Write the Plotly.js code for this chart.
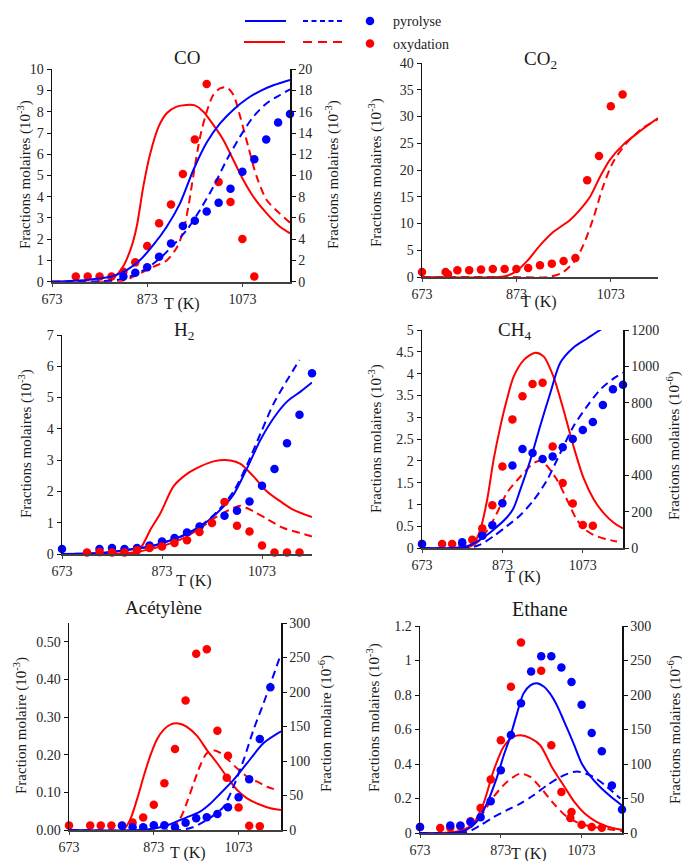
<!DOCTYPE html>
<html>
<head>
<meta charset="utf-8">
<script src="https://cdn.plot.ly/plotly-3.0.1.min.js"></script>
<style>html,body{margin:0;padding:0;background:#fff;}#chart{width:682px;height:861px;}</style>
</head>
<body>
<div id="chart"></div>
<script>
// ---------------- DATA ----------------
const xTicks = [673, 873, 1073];

// CO (oxydation: left axis 10^-3 ; pyrolyse: right axis 10^-3)
const coOxT   = [723,748,773,798,823,848,873,898,923,948,973,998,1023,1048,1073,1098];
const coOxExp = [0.24,0.24,0.24,0.24,0.47,0.91,1.68,2.75,3.64,5.07,6.70,9.31,4.69,3.75,2.01,0.24];
const coPyT   = [823,848,873,898,923,948,973,998,1023,1048,1073,1098,1123,1148,1173];
const coPyExp = [0.48,0.84,1.36,2.36,3.6,5.24,5.74,6.6,7.44,8.76,10.36,11.52,13.4,14.98,15.8];
const coOxSolT = [673,780,801,822,840,851,865,879,897,914,935,955,973,991,1012,1033,1054,1075,1096,1124,1152,1173];
const coOxSol  = [0,0,0.16,0.7,1.65,2.6,4.5,6.0,7.3,7.93,8.24,8.32,8.3,8.0,7.38,6.67,5.73,4.79,4.0,3.22,2.59,2.28];
const coOxDashT = [673,810,830,858,886,914,935,949,960,970,984,998,1012,1026,1040,1054,1068,1086,1103,1124,1152,1173];
const coOxDash  = [0,0,0.1,0.39,0.7,1.0,1.6,2.4,3.6,5.0,6.8,8.0,8.8,9.1,9.15,8.8,7.8,6.3,4.95,3.85,3.2,2.78];
const coPySolT = [673,746,774,802,830,858,886,914,942,970,998,1026,1054,1082,1110,1138,1173];
const coPySol  = [0,0.16,0.32,0.54,1.1,2.04,3.46,5.18,7.38,10.52,13.1,14.9,16.2,17.2,17.95,18.5,19.0];
const coPyDashT = [673,809,844,872,900,928,956,984,1012,1040,1068,1096,1124,1152,1173];
const coPyDash  = [0,0.16,0.62,1.26,2.2,3.46,4.86,6.76,8.94,11.46,13.66,15.54,16.8,17.58,18.12];

// CO2 (oxydation only, 10^-3)
const co2OxT   = [673,723,728,748,773,798,823,848,873,898,923,948,973,998,1023,1048,1073,1098];
const co2OxExp = [0.94,0.94,0.5,1.25,1.25,1.38,1.5,1.5,1.5,1.69,2.19,2.5,3.0,3.56,18.1,22.6,31.9,34.1];
const co2SolT = [673,835,855,873,897,923,951,986,1007,1029,1050,1071,1099,1134,1173];
const co2Sol  = [0,0,0.3,1.1,3.1,5.9,8.4,10.6,12.5,15.0,18.7,21.9,24.7,27.2,29.7];
const co2DashT = [673,860,940,970,995,1015,1036,1057,1078,1106,1140,1173];
const co2Dash  = [0,0,0,0.8,2.8,6.0,11.0,17.0,21.5,25.0,27.8,29.5];

// H2 (10^-3)
const h2PyT   = [673,748,773,798,823,848,873,898,923,948,998,1023,1048,1073,1098,1123,1148,1173];
const h2PyExp = [0.16,0.16,0.19,0.16,0.19,0.27,0.40,0.51,0.69,0.88,1.22,1.38,1.68,2.18,2.72,3.54,4.45,5.78];
const h2OxT   = [723,748,773,798,823,848,873,898,923,948,973,998,1023,1048,1073,1098,1123,1148];
const h2OxExp = [0.05,0.06,0.05,0.05,0.12,0.19,0.24,0.35,0.44,0.70,0.99,1.66,0.90,0.72,0.27,0.05,0.05,0.05];
const h2OxSolT = [673,810,830,850,870,896,923,950,976,1010,1030,1056,1083,1110,1136,1173];
const h2OxSol  = [0,0,0.19,0.78,1.31,2.16,2.56,2.8,2.96,2.99,2.88,2.48,2.0,1.68,1.41,1.18];
const h2OxDashT = [673,816,850,883,916,950,983,1016,1030,1056,1083,1116,1150,1173];
const h2OxDash  = [0,0.05,0.16,0.3,0.51,0.83,1.2,1.47,1.54,1.36,1.12,0.83,0.67,0.56];
const h2PySolT = [673,750,816,850,883,916,950,983,1016,1043,1070,1096,1123,1150,1173];
const h2PySol  = [0,0.03,0.16,0.24,0.4,0.59,0.88,1.31,1.9,2.74,3.65,4.34,4.87,5.19,5.48];
const h2PyDashT = [673,750,816,850,883,916,950,983,1016,1043,1070,1096,1123,1148];
const h2PyDash  = [0,0.03,0.16,0.24,0.4,0.6,0.9,1.35,2.0,2.85,3.85,4.8,5.55,6.2];

// CH4 (oxydation: left 10^-3 ; pyrolyse: right 10^-6)
const ch4OxT   = [673,723,748,773,798,823,848,873,898,923,948,973,998,1023,1048,1073,1098];
const ch4OxExp = [0.09,0.09,0.09,0.09,0.19,0.45,0.98,1.87,2.95,3.48,3.76,3.79,2.33,1.49,1.02,0.53,0.51];
const ch4PyT   = [673,773,823,848,873,898,923,948,973,998,1023,1048,1073,1098,1123,1148,1173];
const ch4PyExp = [22,31,67,125,247,454,545,523,490,504,554,600,650,694,787,874,898];
const ch4OxSolT = [673,780,801,818,835,851,868,884,901,926,955,976,1000,1025,1050,1075,1100,1125,1150,1173];
const ch4OxSol  = [0,0,0.08,0.42,1.1,2.02,2.79,3.4,3.93,4.31,4.48,4.39,3.93,3.17,2.33,1.6,1.12,0.8,0.58,0.45];
const ch4OxDashT = [673,785,818,851,884,918,951,968,984,1009,1034,1055,1075,1100,1133,1158];
const ch4OxDash  = [0,0,0.19,0.65,1.26,1.64,1.95,2.0,1.88,1.56,1.1,0.7,0.45,0.3,0.2,0.15];
const ch4PySolT = [673,743,785,818,851,884,900,918,942,967,992,1017,1050,1083,1116,1140];
const ch4PySol  = [0,0,10,46,101,168,216,324,480,672,852,1020,1104,1152,1200,1229];
const ch4PyDashT = [673,785,818,851,884,918,951,984,1017,1050,1083,1116,1150,1173];
const ch4PyDash  = [0,0,19,65,120,182,264,374,523,670,778,871,934,965];

// Acétylène (oxydation: left 10^-3 ; pyrolyse: right 10^-6)
const acOxT   = [673,723,748,773,798,823,848,873,898,923,948,973,998,1023,1045,1048,1073,1098,1123];
const acOxExp = [0.012,0.012,0.012,0.012,0.012,0.020,0.033,0.067,0.124,0.215,0.344,0.468,0.480,0.264,0.139,0.197,0.060,0.011,0.010];
const acPyT   = [798,823,848,873,898,923,948,973,998,1023,1048,1073,1098,1123,1148];
const acPyExp = [6,4,4,7,7,4,10.6,16.9,18.4,23.2,32.9,47.4,73.6,132,207];
const acOxSolT = [673,800,817,833,849,864,880,896,912,931,951,975,998,1022,1045,1069,1093,1124,1148,1173];
const acOxSol  = [0,0,0.027,0.08,0.142,0.195,0.24,0.266,0.28,0.283,0.274,0.25,0.213,0.178,0.142,0.107,0.084,0.067,0.058,0.053];
const acOxDashT = [673,910,935,950,967,982,998,1014,1030,1050,1073,1095,1116,1140,1167];
const acOxDash  = [0,0,0.03,0.07,0.124,0.17,0.204,0.212,0.205,0.185,0.16,0.14,0.129,0.115,0.105];
const acPySolT = [673,841,880,910,935,958,982,1006,1030,1061,1093,1132,1173];
const acPySol  = [0,0,3,8,14.5,20,26.6,38,53,72.6,96.8,126,143];
const acPyDashT = [673,935,965,998,1020,1038,1061,1085,1108,1132,1150,1171];
const acPyDash  = [0,0,4,14.5,24,34,63,101.6,145,184,215,252];

// Ethane (oxydation: left 10^-3 ; pyrolyse: right 10^-6)
const ethOxT   = [673,723,748,773,798,823,848,873,898,923,973,998,1023,1045,1048,1073,1098,1123];
const ethOxExp = [0.035,0.029,0.031,0.039,0.068,0.145,0.31,0.538,0.848,1.105,0.94,0.509,0.238,0.087,0.122,0.048,0.035,0.031];
const ethPyT   = [673,748,773,798,823,848,873,898,923,948,973,998,1023,1048,1073,1098,1123,1148,1173];
const ethPyExp = [8.7,11,11,16,23,46,91,142,188,234,256,256,240,219,186,145,118.5,69,34];
const ethOxSolT = [673,723,772,805,830,855,880,904,922,946,970,1000,1030,1055,1080,1110,1140,1173];
const ethOxSol  = [0,0,0.012,0.054,0.17,0.36,0.5,0.557,0.566,0.55,0.51,0.38,0.27,0.18,0.115,0.065,0.035,0.019];
const ethOxDashT = [673,747,789,822,855,888,921,946,970,1004,1037,1070,1103,1136,1173];
const ethOxDash  = [0,0,0.015,0.093,0.209,0.296,0.344,0.325,0.267,0.17,0.093,0.054,0.035,0.023,0.012];
const ethPySolT = [673,756,789,813,838,863,880,896,913,929,946,962,980,995,1012,1028,1053,1074,1095,1120,1145,1173];
const ethPySol  = [0,0,4.8,16,42,80,112,139,173,202,214,217,212,202,185,164,130,100,82,66,53,40];
const ethPyDashT = [673,789,822,855,888,921,954,987,1020,1053,1070,1103,1136,1169];
const ethPyDash  = [0,1.5,11,23,33,42.6,54.7,69,81,88.5,88.5,81,66.8,50];

// ---------------- STYLE / LAYOUT ----------------
const W = 682, H = 861;
const BLUE = '#0000FF', RED = '#FF0000';
const FONT = 'Liberation Serif';
const px = v => v / W;
const py = v => 1 - v / H;
const xd = (a, b) => [a / W, b / W];
const yd = (top, bottom) => [1 - bottom / H, 1 - top / H];

const traces = [];
function line(x, y, color, dashed, xa, ya) {
  traces.push({x: x, y: y, xaxis: xa, yaxis: ya, type: 'scatter', mode: 'lines',
    line: {color: color, width: 2, shape: 'spline', smoothing: 0.8, dash: dashed ? '8px,5px' : 'solid'},
    hoverinfo: 'skip', showlegend: false});
}
function dots(x, y, color, xa, ya) {
  traces.push({x: x, y: y, xaxis: xa, yaxis: ya, type: 'scatter', mode: 'markers',
    marker: {color: color, size: 8.5}, cliponaxis: false, hoverinfo: 'skip', showlegend: false});
}

// CO
line(coOxSolT, coOxSol, RED, false, 'x', 'y');
line(coOxDashT, coOxDash, RED, true, 'x', 'y');
line(coPySolT, coPySol, BLUE, false, 'x', 'y2');
line(coPyDashT, coPyDash, BLUE, true, 'x', 'y2');
dots(coPyT, coPyExp, BLUE, 'x', 'y2');
dots(coOxT, coOxExp, RED, 'x', 'y');
// CO2
line(co2SolT, co2Sol, RED, false, 'x2', 'y3');
line(co2DashT, co2Dash, RED, true, 'x2', 'y3');
dots(co2OxT, co2OxExp, RED, 'x2', 'y3');
// H2
line(h2OxSolT, h2OxSol, RED, false, 'x3', 'y4');
line(h2OxDashT, h2OxDash, RED, true, 'x3', 'y4');
line(h2PySolT, h2PySol, BLUE, false, 'x3', 'y4');
line(h2PyDashT, h2PyDash, BLUE, true, 'x3', 'y4');
dots(h2PyT, h2PyExp, BLUE, 'x3', 'y4');
dots(h2OxT, h2OxExp, RED, 'x3', 'y4');
// CH4
line(ch4OxSolT, ch4OxSol, RED, false, 'x4', 'y5');
line(ch4OxDashT, ch4OxDash, RED, true, 'x4', 'y5');
line(ch4PySolT, ch4PySol, BLUE, false, 'x4', 'y6');
line(ch4PyDashT, ch4PyDash, BLUE, true, 'x4', 'y6');
dots(ch4PyT, ch4PyExp, BLUE, 'x4', 'y6');
dots(ch4OxT, ch4OxExp, RED, 'x4', 'y5');
// Acetylene
line(acOxSolT, acOxSol, RED, false, 'x5', 'y7');
line(acOxDashT, acOxDash, RED, true, 'x5', 'y7');
line(acPySolT, acPySol, BLUE, false, 'x5', 'y8');
line(acPyDashT, acPyDash, BLUE, true, 'x5', 'y8');
dots(acPyT, acPyExp, BLUE, 'x5', 'y8');
dots(acOxT, acOxExp, RED, 'x5', 'y7');
// Ethane
line(ethOxSolT, ethOxSol, RED, false, 'x6', 'y9');
line(ethOxDashT, ethOxDash, RED, true, 'x6', 'y9');
line(ethPySolT, ethPySol, BLUE, false, 'x6', 'y10');
line(ethPyDashT, ethPyDash, BLUE, true, 'x6', 'y10');
dots(ethPyT, ethPyExp, BLUE, 'x6', 'y10');
dots(ethOxT, ethOxExp, RED, 'x6', 'y9');

const tickFont = {family: FONT, size: 14, color: '#262626'};
function xax(dom, anchor) {
  return {domain: dom, anchor: anchor, range: [673, 1173], tickvals: xTicks, ticks: 'outside', ticklen: 3,
    tickcolor: '#404040', showline: true, linecolor: '#404040', linewidth: 2, showgrid: false,
    zeroline: false, tickfont: tickFont, automargin: false, fixedrange: true};
}
function yax(opts) {
  return Object.assign({showline: true, linecolor: '#111', linewidth: 1.5, ticks: 'outside', ticklen: 4,
    tickcolor: '#111', showgrid: false, zeroline: false, tickfont: tickFont, automargin: false,
    fixedrange: true}, opts);
}

const layout = {
  width: W, height: H, margin: {l: 0, r: 0, t: 0, b: 0},
  paper_bgcolor: '#fff', plot_bgcolor: '#fff', showlegend: false,
  font: {family: FONT, color: '#111'},
  xaxis:  xax(xd(52, 290), 'y'),
  yaxis:  yax({domain: yd(69.3, 281.7), anchor: 'x', range: [0, 10], dtick: 1}),
  yaxis2: yax({overlaying: 'y', anchor: 'x', side: 'right', range: [0, 20], dtick: 2}),
  xaxis2: xax(xd(422, 658), 'y3'),
  yaxis3: yax({domain: yd(63, 277), anchor: 'x2', range: [0, 40], dtick: 5}),
  xaxis3: xax(xd(62, 312), 'y4'),
  yaxis4: yax({domain: yd(335, 554), anchor: 'x3', range: [0, 7], dtick: 1}),
  xaxis4: xax(xd(422, 623), 'y5'),
  yaxis5: yax({domain: yd(330, 548), anchor: 'x4', range: [0, 5], dtick: 0.5}),
  yaxis6: yax({overlaying: 'y5', anchor: 'x4', side: 'right', range: [0, 1200], dtick: 200}),
  xaxis5: xax(xd(69, 281), 'y7'),
  yaxis7: yax({domain: yd(623, 830), anchor: 'x5', range: [0, 0.55], dtick: 0.1, tick0: 0, tickformat: '.2f'}),
  yaxis8: yax({overlaying: 'y7', anchor: 'x5', side: 'right', range: [0, 300], dtick: 50}),
  xaxis6: xax(xd(420, 622), 'y9'),
  yaxis9: yax({domain: yd(626, 833), anchor: 'x6', range: [0, 1.2], dtick: 0.2}),
  yaxis10: yax({overlaying: 'y9', anchor: 'x6', side: 'right', range: [0, 300], dtick: 50}),
  annotations: [],
  shapes: []
};

function txt(text, x, y, size, opts) {
  layout.annotations.push(Object.assign({text: text, xref: 'paper', yref: 'paper', x: px(x), y: py(y),
    xanchor: 'center', yanchor: 'middle', showarrow: false,
    font: {family: FONT, size: size, color: '#1a1a1a'}}, opts || {}));
}
// Panel titles
txt('CO', 187, 57, 19);
txt('CO<sub>2</sub>', 540, 60, 19);
txt('H<sub>2</sub>', 184, 331, 19);
txt('CH<sub>4</sub>', 514, 331, 19);
txt('Acétylène', 163, 607, 19);
txt('Ethane', 540, 609, 20);
// Axis titles
const fm3 = 'Fractions molaires (10<sup>-3</sup>)';
const fm6 = 'Fractions molaires (10<sup>-6</sup>)';
txt(fm3, 24, 175, 15, {textangle: -90});
txt(fm3, 332, 175, 15, {textangle: -90});
txt(fm3, 375, 172, 15, {textangle: -90});
txt(fm3, 25, 444, 15, {textangle: -90});
txt(fm3, 375, 438, 15, {textangle: -90});
txt(fm6, 674, 446, 15, {textangle: -90});
txt('Fraction molaire (10<sup>-3</sup>)', 20, 726, 15, {textangle: -90});
txt('Fraction molaire (10<sup>-6</sup>)', 325, 724, 15, {textangle: -90});
txt(fm3, 373, 718, 15, {textangle: -90});
txt(fm6, 674, 730, 15, {textangle: -90});
// T (K)
txt('T (K)', 182, 304, 16);
txt('T (K)', 539, 302, 16);
txt('T (K)', 194, 581, 16);
txt('T (K)', 523, 577, 16);
txt('T (K)', 188, 853, 16);
txt('T (K)', 529, 854, 16);

// Legend (drawn manually: solid model, dashed model, points)
function hline(x0, x1, y, color, dash) {
  layout.shapes.push({type: 'line', xref: 'paper', yref: 'paper', x0: px(x0), x1: px(x1), y0: py(y), y1: py(y),
    line: {color: color, width: 2, dash: dash}});
}
function circ(cx, cy, r, color) {
  layout.shapes.push({type: 'circle', xref: 'paper', yref: 'paper', x0: px(cx - r), x1: px(cx + r),
    y0: py(cy + r), y1: py(cy - r), fillcolor: color, line: {color: color, width: 0}});
}
hline(245, 286, 21, BLUE, 'solid');
hline(303, 345, 21, BLUE, '5px,3.5px');
circ(370, 21, 4.3, BLUE);
hline(244, 285, 42, RED, 'solid');
hline(303, 343, 42, RED, '9px,6px');
circ(370, 43.5, 4.3, RED);
txt('pyrolyse', 391, 21, 14, {xanchor: 'left'});
txt('oxydation', 391, 44, 14, {xanchor: 'left'});

Plotly.newPlot('chart', traces, layout, {staticPlot: true, displayModeBar: false});
</script>
</body>
</html>
